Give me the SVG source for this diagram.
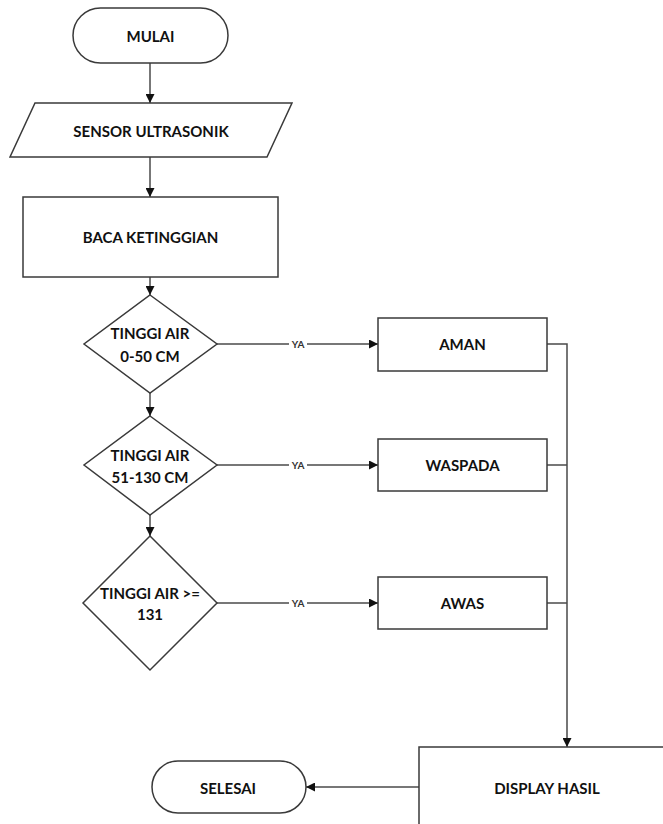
<svg xmlns="http://www.w3.org/2000/svg" width="663" height="824" viewBox="0 0 663 824">
<style>
.s{fill:#fff;stroke:#3a3a3a;stroke-width:1.5}
.t{font-family:Lato,"Liberation Sans",sans-serif;font-weight:bold;font-size:15px;fill:#111;text-anchor:middle;dominant-baseline:central}
.c{fill:none;stroke:#4a4a4a;stroke-width:1.5}
.y{font-family:Lato,"Liberation Sans",sans-serif;font-weight:bold;font-size:10px;fill:#333;text-anchor:middle;dominant-baseline:central}
</style>
<defs>
<marker id="a" viewBox="0 0 10 10" refX="10" refY="5" markerWidth="9" markerHeight="9" markerUnits="userSpaceOnUse" orient="auto">
<path d="M0,0 L10,5 L0,10 z" fill="#111"/>
</marker>
</defs>
<rect width="663" height="824" fill="#fff"/>
<g id="connectors">
<line class="c" x1="150" y1="63" x2="150" y2="103" marker-end="url(#a)"/>
<line class="c" x1="150" y1="157" x2="150" y2="197" marker-end="url(#a)"/>
<line class="c" x1="150" y1="277" x2="150" y2="295" marker-end="url(#a)"/>
<line class="c" x1="150" y1="393" x2="150" y2="416" marker-end="url(#a)"/>
<line class="c" x1="150" y1="515" x2="150" y2="536" marker-end="url(#a)"/>
<line class="c" x1="217" y1="344" x2="378" y2="344" marker-end="url(#a)"/>
<line class="c" x1="217" y1="465" x2="378" y2="465" marker-end="url(#a)"/>
<line class="c" x1="217" y1="603" x2="378" y2="603" marker-end="url(#a)"/>
<rect x="289" y="339" width="18" height="10" fill="#fff"/>
<text class="y" x="298" y="344">YA</text>
<rect x="289" y="460" width="18" height="10" fill="#fff"/>
<text class="y" x="298" y="465">YA</text>
<rect x="289" y="598" width="18" height="10" fill="#fff"/>
<text class="y" x="298" y="603">YA</text>
<polyline class="c" points="547,344 567,344 567,747" marker-end="url(#a)"/>
<line class="c" x1="547" y1="465" x2="567" y2="465"/>
<line class="c" x1="547" y1="603" x2="567" y2="603"/>
<line class="c" x1="419" y1="787" x2="306" y2="787" marker-end="url(#a)"/>
</g>
<g id="mulai">
<rect class="s" x="73" y="8" width="155" height="55" rx="27.5"/>
<text class="t" x="150.5" y="36">MULAI</text>
</g>
<g id="sensor">
<polygon class="s" points="35,103 292,103 267,157 10,157"/>
<text class="t" x="151" y="131">SENSOR ULTRASONIK</text>
</g>
<g id="baca">
<rect class="s" x="23" y="197" width="255" height="80"/>
<text class="t" x="150.5" y="237">BACA KETINGGIAN</text>
</g>
<g id="d1">
<polygon class="s" points="150,295 217,344 150,393 84,344"/>
<text class="t" x="150" y="333">TINGGI AIR</text>
<text class="t" x="150" y="356">0-50 CM</text>
</g>
<g id="d2">
<polygon class="s" points="150,416 217,465 150,515 84,465"/>
<text class="t" x="150" y="455">TINGGI AIR</text>
<text class="t" x="150" y="477">51-130 CM</text>
</g>
<g id="d3">
<polygon class="s" points="150,536 217,603 150,670 83,603"/>
<text class="t" x="150" y="593">TINGGI AIR &gt;=</text>
<text class="t" x="150" y="614">131</text>
</g>
<g id="aman">
<rect class="s" x="378" y="318" width="169" height="53"/>
<text class="t" x="462.5" y="344">AMAN</text>
</g>
<g id="waspada">
<rect class="s" x="378" y="439" width="169" height="52"/>
<text class="t" x="462.5" y="465">WASPADA</text>
</g>
<g id="awas">
<rect class="s" x="378" y="577" width="169" height="52"/>
<text class="t" x="462.5" y="603">AWAS</text>
</g>
<g id="display">
<rect class="s" x="419" y="747" width="260" height="100"/>
<text class="t" x="547" y="788">DISPLAY HASIL</text>
</g>
<g id="selesai">
<rect class="s" x="152" y="761" width="154" height="52" rx="26"/>
<text class="t" x="228" y="788">SELESAI</text>
</g>
</svg>
